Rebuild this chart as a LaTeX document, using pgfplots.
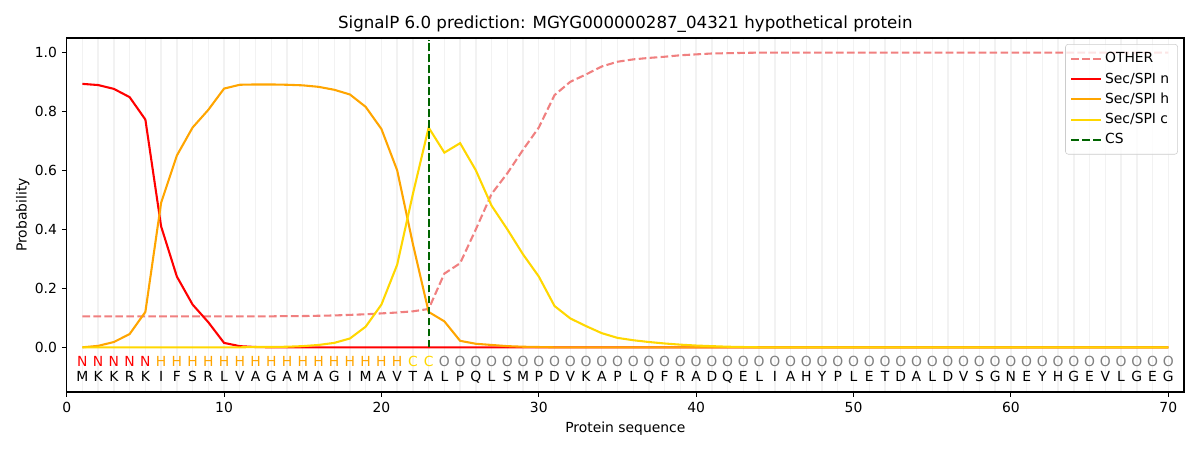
\documentclass[border=0pt]{standalone}
\usepackage{fontspec}
\setmainfont{DejaVu Sans}
\usepackage{pgfplots}
\usepackage{pgfplotstable}
\pgfplotsset{compat=1.18}
\definecolor{lcoral}{HTML}{F08080}
\definecolor{morange}{HTML}{FFA500}
\definecolor{mgold}{HTML}{FFD700}
\definecolor{dgreen}{HTML}{006400}
\definecolor{ogray}{HTML}{808080}

\pgfplotstableread{
x other n h c
1 0.105 0.893 0.000 0.000
2 0.105 0.889 0.005 0.000
3 0.105 0.876 0.018 0.000
4 0.105 0.848 0.045 0.000
5 0.105 0.772 0.120 0.000
6 0.105 0.410 0.490 0.000
7 0.105 0.240 0.650 0.000
8 0.105 0.145 0.745 0.000
9 0.105 0.085 0.805 0.000
10 0.105 0.015 0.877 0.000
11 0.105 0.004 0.890 0.000
12 0.105 0.001 0.891 0.001
13 0.105 0.000 0.891 0.001
14 0.106 0.000 0.890 0.002
15 0.106 0.000 0.888 0.004
16 0.107 0.000 0.883 0.008
17 0.108 0.000 0.873 0.015
18 0.110 0.000 0.857 0.030
19 0.112 0.000 0.815 0.070
20 0.115 0.000 0.740 0.145
21 0.118 0.000 0.600 0.280
22 0.122 0.000 0.350 0.520
23 0.130 0.000 0.120 0.745
24 0.250 0.000 0.088 0.660
25 0.285 0.000 0.022 0.692
26 0.400 0.000 0.012 0.600
27 0.520 0.000 0.008 0.480
28 0.590 0.000 0.004 0.400
29 0.670 0.000 0.002 0.315
30 0.745 0.000 0.001 0.240
31 0.855 0.000 0.000 0.140
32 0.900 0.000 0.000 0.098
33 0.925 0.000 0.000 0.072
34 0.952 0.000 0.000 0.048
35 0.968 0.000 0.000 0.032
36 0.976 0.000 0.000 0.024
37 0.981 0.000 0.000 0.018
38 0.985 0.000 0.000 0.013
39 0.990 0.000 0.000 0.009
40 0.993 0.000 0.000 0.006
41 0.996 0.000 0.000 0.004
42 0.997 0.000 0.000 0.002
43 0.998 0.000 0.000 0.001
44 0.999 0.000 0.000 0.000
45 0.999 0.000 0.000 0.000
46 0.999 0.000 0.000 0.000
47 0.999 0.000 0.000 0.000
48 0.999 0.000 0.000 0.000
49 0.999 0.000 0.000 0.000
50 0.999 0.000 0.000 0.000
51 0.999 0.000 0.000 0.000
52 0.999 0.000 0.000 0.000
53 0.999 0.000 0.000 0.000
54 0.999 0.000 0.000 0.000
55 0.999 0.000 0.000 0.000
56 0.999 0.000 0.000 0.000
57 0.999 0.000 0.000 0.000
58 0.999 0.000 0.000 0.000
59 0.999 0.000 0.000 0.000
60 0.999 0.000 0.000 0.000
61 0.999 0.000 0.000 0.000
62 0.999 0.000 0.000 0.000
63 0.999 0.000 0.000 0.000
64 0.999 0.000 0.000 0.000
65 0.999 0.000 0.000 0.000
66 0.999 0.000 0.000 0.000
67 0.999 0.000 0.000 0.000
68 0.999 0.000 0.000 0.000
69 0.999 0.000 0.000 0.000
70 0.999 0.000 0.000 0.000
}\probs

\pgfplotstableread{
x y s
1 -0.10 M
2 -0.10 K
3 -0.10 K
4 -0.10 R
5 -0.10 K
6 -0.10 I
7 -0.10 F
8 -0.10 S
9 -0.10 R
10 -0.10 L
11 -0.10 V
12 -0.10 A
13 -0.10 G
14 -0.10 A
15 -0.10 M
16 -0.10 A
17 -0.10 G
18 -0.10 I
19 -0.10 M
20 -0.10 A
21 -0.10 V
22 -0.10 T
23 -0.10 A
24 -0.10 L
25 -0.10 P
26 -0.10 Q
27 -0.10 L
28 -0.10 S
29 -0.10 M
30 -0.10 P
31 -0.10 D
32 -0.10 V
33 -0.10 K
34 -0.10 A
35 -0.10 P
36 -0.10 L
37 -0.10 Q
38 -0.10 F
39 -0.10 R
40 -0.10 A
41 -0.10 D
42 -0.10 Q
43 -0.10 E
44 -0.10 L
45 -0.10 I
46 -0.10 A
47 -0.10 H
48 -0.10 Y
49 -0.10 P
50 -0.10 L
51 -0.10 E
52 -0.10 T
53 -0.10 D
54 -0.10 A
55 -0.10 L
56 -0.10 D
57 -0.10 V
58 -0.10 S
59 -0.10 G
60 -0.10 N
61 -0.10 E
62 -0.10 Y
63 -0.10 H
64 -0.10 G
65 -0.10 E
66 -0.10 V
67 -0.10 L
68 -0.10 G
69 -0.10 E
70 -0.10 G
}\seq

\begin{document}
\begin{tikzpicture}
\begin{axis}[
  scale only axis, width=804.5pt, height=254.9pt,
  xmin=0, xmax=71, ymin=-0.1515, ymax=1.0485,
  xtick={0,10,...,70}, ytick={0,0.2,...,1.0},
  minor xtick={1,2,...,70},
  xminorgrids=true,
  minor grid style={gray!10, line width=1pt},
  minor tick length=0pt,
  tick align=outside, major tick length=3.5pt,
  xtick pos=bottom, ytick pos=left,
  tick style={black, line width=0.8pt},
  axis line style={line width=0.8pt},
  /pgf/number format/assume math mode=true,
  yticklabel style={/pgf/number format/fixed, /pgf/number format/fixed zerofill, /pgf/number format/precision=1},
  ticklabel style={font=\fontsize{10}{12}\selectfont},
  label style={font=\fontsize{10}{12}\selectfont},
  xlabel={Protein sequence}, ylabel={Probability},
  ylabel style={yshift=-3pt},
  title={SignalP 6.0 prediction: MGYG000000287\_04321 hypothetical protein},
  title style={font=\fontsize{12}{14}\selectfont, yshift=-5.5pt},
  legend style={at={(rel axis cs:0.9945,0.983)}, anchor=north east, draw=gray!40, rounded corners=2pt, fill=white, fill opacity=0.8, text opacity=1, font=\fontsize{10}{12}\selectfont, row sep=0.6pt, inner sep=3.5pt, nodes={inner sep=2.5pt}},
  legend cell align=left,
  legend image code/.code={\draw[#1] (0pt,0pt) -- (21pt,0pt);},
  every axis plot/.append style={line width=1.5pt},
  clip=false,
]
\coordinate (sw) at (rel axis cs:0,0);
\coordinate (ne) at (rel axis cs:1,1);
\addplot[lcoral, dash pattern=on 5.5pt off 2.4pt] table[x=x,y=other] {\probs};
\addlegendentry{OTHER}
\addplot[red] table[x=x,y=n] {\probs};
\addlegendentry{Sec/SPI n}
\addplot[morange] table[x=x,y=h] {\probs};
\addlegendentry{Sec/SPI h}
\addplot[mgold] table[x=x,y=c] {\probs};
\addlegendentry{Sec/SPI c}
\addplot[dgreen, dash pattern=on 5.5pt off 2.4pt] coordinates {(23,0) (23,1.042)};
\addlegendentry{CS}

\addplot[forget plot, draw=none, mark=none, nodes near coords, point meta=explicit symbolic,
  every node near coord/.style={anchor=center, text=black, font=\fontsize{10}{12}\selectfont}]
  table[x=x,y=y,meta=s] {\seq};
\addplot[forget plot, draw=none, mark=none, nodes near coords, point meta=explicit symbolic,
  every node near coord/.style={anchor=center, text=red, font=\fontsize{10}{12}\selectfont}]
  coordinates {(1,-0.047)[N] (2,-0.047)[N] (3,-0.047)[N] (4,-0.047)[N] (5,-0.047)[N]};
\addplot[forget plot, draw=none, mark=none, nodes near coords, point meta=explicit symbolic,
  every node near coord/.style={anchor=center, text=morange, font=\fontsize{10}{12}\selectfont}]
  coordinates {(6,-0.047)[H] (7,-0.047)[H] (8,-0.047)[H] (9,-0.047)[H] (10,-0.047)[H] (11,-0.047)[H] (12,-0.047)[H] (13,-0.047)[H] (14,-0.047)[H] (15,-0.047)[H] (16,-0.047)[H] (17,-0.047)[H] (18,-0.047)[H] (19,-0.047)[H] (20,-0.047)[H] (21,-0.047)[H]};
\addplot[forget plot, draw=none, mark=none, nodes near coords, point meta=explicit symbolic,
  every node near coord/.style={anchor=center, text=mgold, font=\fontsize{10}{12}\selectfont}]
  coordinates {(22,-0.047)[C] (23,-0.047)[C]};
\addplot[forget plot, draw=none, mark=none, nodes near coords, point meta=explicit symbolic,
  every node near coord/.style={anchor=center, text=ogray, font=\fontsize{10}{12}\selectfont}]
  coordinates {(24,-0.047)[O] (25,-0.047)[O] (26,-0.047)[O] (27,-0.047)[O] (28,-0.047)[O] (29,-0.047)[O] (30,-0.047)[O] (31,-0.047)[O] (32,-0.047)[O] (33,-0.047)[O] (34,-0.047)[O] (35,-0.047)[O] (36,-0.047)[O] (37,-0.047)[O] (38,-0.047)[O] (39,-0.047)[O] (40,-0.047)[O] (41,-0.047)[O] (42,-0.047)[O] (43,-0.047)[O] (44,-0.047)[O] (45,-0.047)[O] (46,-0.047)[O] (47,-0.047)[O] (48,-0.047)[O] (49,-0.047)[O] (50,-0.047)[O] (51,-0.047)[O] (52,-0.047)[O] (53,-0.047)[O] (54,-0.047)[O] (55,-0.047)[O] (56,-0.047)[O] (57,-0.047)[O] (58,-0.047)[O] (59,-0.047)[O] (60,-0.047)[O] (61,-0.047)[O] (62,-0.047)[O] (63,-0.047)[O] (64,-0.047)[O] (65,-0.047)[O] (66,-0.047)[O] (67,-0.047)[O] (68,-0.047)[O] (69,-0.047)[O] (70,-0.047)[O]};
\end{axis}
\pgfresetboundingbox
\path[use as bounding box] ([xshift=-48.02pt,yshift=-41.76pt]sw) rectangle ([xshift=11.52pt,yshift=27.36pt]ne);
\end{tikzpicture}
\end{document}
